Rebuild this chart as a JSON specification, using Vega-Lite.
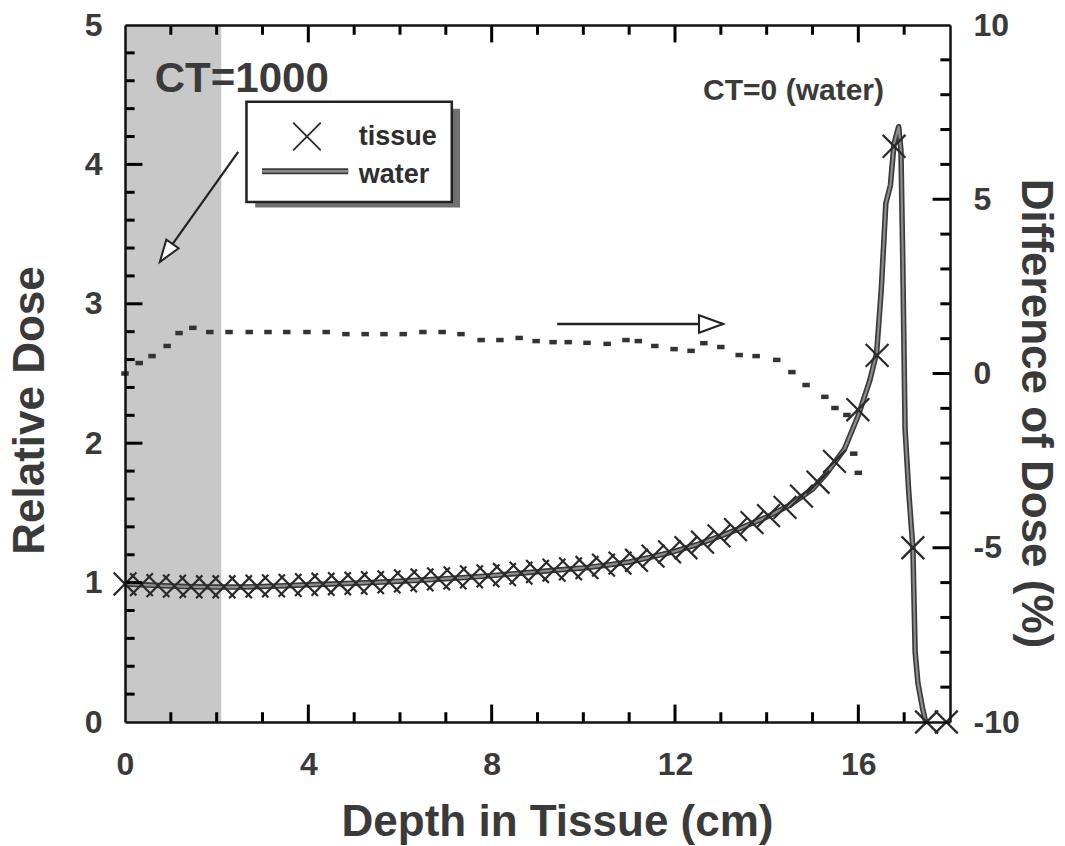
{
  "$schema": "https://vega.github.io/schema/vega-lite/v6.json",
  "width": 825,
  "height": 697,
  "autosize": {"type": "none"},
  "padding": {"left": 125, "top": 25, "right": 115, "bottom": 124},
  "background": "white",
  "config": {"view": {"stroke": null}},
  "datasets": {
    "shade": [{"x": 0, "x2": 2.1, "y": 0, "y2": 5}],
    "water": [
      {"d": 0, "v": 0.99}, {"d": 0.5, "v": 0.982}, {"d": 1, "v": 0.975}, {"d": 1.5, "v": 0.97}, {"d": 2, "v": 0.968},
      {"d": 2.5, "v": 0.968}, {"d": 3, "v": 0.972}, {"d": 3.5, "v": 0.978}, {"d": 4, "v": 0.984}, {"d": 4.5, "v": 0.99},
      {"d": 5, "v": 0.996}, {"d": 5.5, "v": 1.002}, {"d": 6, "v": 1.01}, {"d": 6.5, "v": 1.018}, {"d": 7, "v": 1.028},
      {"d": 7.5, "v": 1.038}, {"d": 8, "v": 1.05}, {"d": 8.5, "v": 1.064}, {"d": 9, "v": 1.078}, {"d": 9.5, "v": 1.092},
      {"d": 10, "v": 1.105}, {"d": 10.5, "v": 1.125}, {"d": 11, "v": 1.148}, {"d": 11.5, "v": 1.185}, {"d": 12, "v": 1.225},
      {"d": 12.5, "v": 1.275}, {"d": 13, "v": 1.335}, {"d": 13.5, "v": 1.4}, {"d": 14, "v": 1.47}, {"d": 14.5, "v": 1.555},
      {"d": 15, "v": 1.67}, {"d": 15.3, "v": 1.78}, {"d": 15.7, "v": 1.96}, {"d": 16.0, "v": 2.2}, {"d": 16.25, "v": 2.45},
      {"d": 16.4, "v": 2.65}, {"d": 16.5, "v": 3.1}, {"d": 16.6, "v": 3.72}, {"d": 16.7, "v": 3.85}, {"d": 16.78, "v": 4.15},
      {"d": 16.88, "v": 4.27}, {"d": 16.93, "v": 4.1}, {"d": 16.97, "v": 3.3}, {"d": 17.02, "v": 2.1}, {"d": 17.1, "v": 1.65},
      {"d": 17.19, "v": 1.25}, {"d": 17.24, "v": 0.5}, {"d": 17.3, "v": 0.28}, {"d": 17.4, "v": 0.1}, {"d": 17.47, "v": 0.0}
    ],
    "tissue": [
      {"d": 0, "v": 0.99}, {"d": 0.36, "v": 0.985}, {"d": 0.72, "v": 0.978}, {"d": 1.08, "v": 0.975}, {"d": 1.44, "v": 0.97},
      {"d": 1.8, "v": 0.97}, {"d": 2.16, "v": 0.97}, {"d": 2.52, "v": 0.97}, {"d": 2.88, "v": 0.975}, {"d": 3.24, "v": 0.977},
      {"d": 3.6, "v": 0.98}, {"d": 3.96, "v": 0.985}, {"d": 4.32, "v": 0.988}, {"d": 4.68, "v": 0.992}, {"d": 5.04, "v": 0.995},
      {"d": 5.4, "v": 1.0}, {"d": 5.76, "v": 1.005}, {"d": 6.12, "v": 1.012}, {"d": 6.48, "v": 1.02}, {"d": 6.84, "v": 1.027},
      {"d": 7.2, "v": 1.034}, {"d": 7.56, "v": 1.041}, {"d": 7.92, "v": 1.048}, {"d": 8.28, "v": 1.058}, {"d": 8.64, "v": 1.068},
      {"d": 9.0, "v": 1.08}, {"d": 9.36, "v": 1.089}, {"d": 9.72, "v": 1.098}, {"d": 10.08, "v": 1.108}, {"d": 10.44, "v": 1.125},
      {"d": 10.8, "v": 1.14}, {"d": 11.16, "v": 1.16}, {"d": 11.52, "v": 1.19}, {"d": 11.88, "v": 1.22}, {"d": 12.24, "v": 1.25},
      {"d": 12.6, "v": 1.29}, {"d": 12.96, "v": 1.335}, {"d": 13.32, "v": 1.38}, {"d": 13.68, "v": 1.43}, {"d": 14.04, "v": 1.48},
      {"d": 14.4, "v": 1.54}, {"d": 14.76, "v": 1.62}, {"d": 15.12, "v": 1.72}, {"d": 15.48, "v": 1.87},
      {"d": 15.99, "v": 2.24}, {"d": 16.41, "v": 2.63}, {"d": 16.78, "v": 4.13}, {"d": 17.19, "v": 1.25}, {"d": 17.49, "v": 0.0}, {"d": 17.92, "v": 0.0}
    ],
    "diff": [
      {"d": 0.0, "pct": 0.0}, {"d": 0.31, "pct": 0.3}, {"d": 0.59, "pct": 0.5}, {"d": 0.92, "pct": 0.79}, {"d": 1.18, "pct": 1.16},
      {"d": 1.48, "pct": 1.31}, {"d": 1.85, "pct": 1.19}, {"d": 2.27, "pct": 1.19}, {"d": 2.71, "pct": 1.19}, {"d": 3.12, "pct": 1.19},
      {"d": 3.53, "pct": 1.19}, {"d": 3.97, "pct": 1.19}, {"d": 4.39, "pct": 1.19}, {"d": 4.82, "pct": 1.13}, {"d": 5.24, "pct": 1.13},
      {"d": 5.65, "pct": 1.13}, {"d": 6.07, "pct": 1.13}, {"d": 6.5, "pct": 1.19}, {"d": 6.92, "pct": 1.19}, {"d": 7.33, "pct": 1.13},
      {"d": 7.77, "pct": 0.96}, {"d": 8.18, "pct": 0.96}, {"d": 8.6, "pct": 1.02}, {"d": 8.97, "pct": 0.93}, {"d": 9.34, "pct": 0.9},
      {"d": 9.67, "pct": 0.9}, {"d": 10.08, "pct": 0.88}, {"d": 10.52, "pct": 0.85}, {"d": 10.93, "pct": 0.96}, {"d": 11.2, "pct": 0.93},
      {"d": 11.56, "pct": 0.79}, {"d": 11.98, "pct": 0.7}, {"d": 12.35, "pct": 0.65}, {"d": 12.63, "pct": 0.87}, {"d": 13.0, "pct": 0.76},
      {"d": 13.4, "pct": 0.53}, {"d": 13.77, "pct": 0.5}, {"d": 14.22, "pct": 0.39}, {"d": 14.55, "pct": 0.04}, {"d": 14.86, "pct": -0.33},
      {"d": 15.27, "pct": -0.67}, {"d": 15.49, "pct": -0.99}, {"d": 15.75, "pct": -1.19}, {"d": 15.9, "pct": -2.3}, {"d": 16.0, "pct": -2.85}
    ],
    "xmajor": [{"t": 4}, {"t": 8}, {"t": 12}, {"t": 16}],
    "xminor": [{"t": 1}, {"t": 2}, {"t": 3}, {"t": 5}, {"t": 6}, {"t": 7}, {"t": 9}, {"t": 10}, {"t": 11}, {"t": 13}, {"t": 14}, {"t": 15}, {"t": 17}],
    "ymajor": [{"t": 1}, {"t": 2}, {"t": 3}, {"t": 4}],
    "yminor": [{"t": 0.2}, {"t": 0.4}, {"t": 0.6}, {"t": 0.8}, {"t": 1.2}, {"t": 1.4}, {"t": 1.6}, {"t": 1.8}, {"t": 2.2}, {"t": 2.4},
      {"t": 2.6}, {"t": 2.8}, {"t": 3.2}, {"t": 3.4}, {"t": 3.6}, {"t": 3.8}, {"t": 4.2}, {"t": 4.4}, {"t": 4.6}, {"t": 4.8}],
    "rmajor": [{"t": -5}, {"t": 0}, {"t": 5}],
    "rminor": [{"t": -9}, {"t": -8}, {"t": -7}, {"t": -6}, {"t": -4}, {"t": -3}, {"t": -2}, {"t": -1}, {"t": 1}, {"t": 2}, {"t": 3}, {"t": 4}, {"t": 6}, {"t": 7}, {"t": 8}, {"t": 9}],
    "shadow": [{"x": 2.84, "x2": 7.31, "y": 3.69, "y2": 4.4}],
    "box": [{"x": 2.65, "x2": 7.13, "y": 3.73, "y2": 4.45}],
    "legline": [{"x": 2.99, "y": 3.95}, {"x": 4.87, "y": 3.95}],
    "legx": [{"x": 3.97, "y": 4.2}],
    "legtext": [{"x": 5.1, "y": 4.14, "t": "tissue"}, {"x": 5.1, "y": 3.87, "t": "water"}],
    "ct1": [{"x": 0.65, "y": 4.52, "t": "CT=1000"}],
    "ct0": [{"x": 16.56, "y": 4.46, "t": "CT=0 (water)"}],
    "diagarrow": [{"x": 2.47, "y": 4.09, "x2": 0.76, "y2": 3.3}],
    "diaghead": [{"x": 0.76, "y": 3.3}],
    "harrow": [{"x": 9.43, "x2": 13.05, "y": 1.42}],
    "hhead": [{"x": 13.05, "y": 1.42}]
  },
  "resolve": {"scale": {"y": "independent"}, "axis": {"x": "independent", "y": "independent"}},
  "layer": [
    {
      "data": {"name": "shade"},
      "mark": {"type": "rect", "fill": "#c8c8c8"},
      "encoding": {
        "x": {"field": "x", "type": "quantitative", "scale": {"domain": [0, 18], "nice": false},
          "axis": {"orient": "bottom", "values": [0, 4, 8, 12, 16], "ticks": false, "domain": true, "domainColor": "#111", "domainWidth": 2.5,
            "labels": true, "labelFont": "Liberation Sans", "labelFontSize": 32, "labelFontWeight": "bold", "labelColor": "#3a3a3a",
            "labelPadding": 27, "labelFlush": false, "labelOverlap": false, "labelBound": false, "grid": false,
            "title": "Depth in Tissue (cm)", "titleFont": "Liberation Sans", "titleFontSize": 44, "titleFontWeight": "bold", "titleColor": "#3a3a3a",
            "titleX": 432, "titleY": 113, "titleBaseline": "alphabetic", "titleAlign": "center", "zindex": 2}},
        "x2": {"field": "x2"},
        "y": {"field": "y", "type": "quantitative", "scale": {"domain": [0, 5], "nice": false},
          "axis": {"orient": "left", "values": [0, 1, 2, 3, 4, 5], "ticks": false, "domain": true, "domainColor": "#111", "domainWidth": 2.5,
            "labels": true, "labelFont": "Liberation Sans", "labelFontSize": 32, "labelFontWeight": "bold", "labelColor": "#3a3a3a",
            "labelPadding": 23, "labelFlush": false, "labelOverlap": false, "labelBound": false, "grid": false,
            "title": "Relative Dose", "titleFont": "Liberation Sans", "titleFontSize": 44, "titleFontWeight": "bold", "titleColor": "#3a3a3a",
            "titleX": -82, "titleY": 385, "titleAngle": 270, "titleBaseline": "alphabetic", "titleAlign": "center", "zindex": 2}},
        "y2": {"field": "y2"}
      }
    },
    {
      "data": {"name": "diff"},
      "mark": {"type": "point", "shape": "M-1,-0.6L1,-0.6L1,0.6L-1,0.6Z", "filled": true, "fill": "#333333", "size": 56, "opacity": 1, "strokeWidth": 0},
      "encoding": {
        "x": {"field": "d", "type": "quantitative", "scale": {"domain": [0, 18], "nice": false}, "axis": null},
        "y": {"field": "pct", "type": "quantitative", "scale": {"domain": [-10, 10], "nice": false},
          "axis": {"orient": "right", "values": [-10, -5, 0, 5, 10], "ticks": false, "domain": true, "domainColor": "#111", "domainWidth": 2.5,
            "labels": true, "labelFont": "Liberation Sans", "labelFontSize": 32, "labelFontWeight": "bold", "labelColor": "#3a3a3a",
            "labelExpr": "datum.value < 0 ? '-' + abs(datum.value) : datum.label",
            "labelPadding": 23, "labelFlush": false, "labelOverlap": false, "labelBound": false, "grid": false,
            "title": "Difference of Dose (%)", "titleFont": "Liberation Sans", "titleFontSize": 44, "titleFontWeight": "bold", "titleColor": "#3a3a3a",
            "titleX": 71, "titleY": 388, "titleAngle": 90, "titleBaseline": "alphabetic", "titleAlign": "center", "zindex": 2}}
      }
    },
    {
      "data": {"name": "water"},
      "mark": {"type": "line", "stroke": "#3a3a3a", "strokeWidth": 5.5, "strokeJoin": "round"},
      "encoding": {
        "x": {"field": "d", "type": "quantitative", "scale": {"domain": [0, 18], "nice": false}, "axis": null},
        "y": {"field": "v", "type": "quantitative", "scale": {"domain": [0, 5], "nice": false}, "axis": null}
      }
    },
    {
      "data": {"name": "water"},
      "mark": {"type": "line", "stroke": "#8c8c8c", "strokeWidth": 2.2, "strokeJoin": "round"},
      "encoding": {
        "x": {"field": "d", "type": "quantitative", "scale": {"domain": [0, 18], "nice": false}, "axis": null},
        "y": {"field": "v", "type": "quantitative", "scale": {"domain": [0, 5], "nice": false}, "axis": null}
      }
    },
    {
      "data": {"name": "tissue"},
      "mark": {"type": "point", "shape": "M-1,-1L1,1M-1,1L1,-1", "filled": false, "stroke": "#2a2a2a", "strokeWidth": 2.2, "size": 520, "opacity": 1},
      "encoding": {
        "x": {"field": "d", "type": "quantitative", "scale": {"domain": [0, 18], "nice": false}, "axis": null},
        "y": {"field": "v", "type": "quantitative", "scale": {"domain": [0, 5], "nice": false}, "axis": null}
      }
    },
    {
      "data": {"name": "xmajor"},
      "mark": {"type": "rule", "stroke": "#000000", "strokeWidth": 3},
      "encoding": {
        "x": {"field": "t", "type": "quantitative", "scale": {"domain": [0, 18], "nice": false}, "axis": null},
        "y": {"datum": 0, "type": "quantitative", "scale": {"domain": [0, 5], "nice": false}, "axis": null},
        "y2": {"datum": 0.125}
      }
    },
    {
      "data": {"name": "xmajor"},
      "mark": {"type": "rule", "stroke": "#000000", "strokeWidth": 3},
      "encoding": {
        "x": {"field": "t", "type": "quantitative", "scale": {"domain": [0, 18], "nice": false}, "axis": null},
        "y": {"datum": 5, "type": "quantitative", "scale": {"domain": [0, 5], "nice": false}, "axis": null},
        "y2": {"datum": 4.875}
      }
    },
    {
      "data": {"name": "xminor"},
      "mark": {"type": "rule", "stroke": "#000000", "strokeWidth": 3},
      "encoding": {
        "x": {"field": "t", "type": "quantitative", "scale": {"domain": [0, 18], "nice": false}, "axis": null},
        "y": {"datum": 0, "type": "quantitative", "scale": {"domain": [0, 5], "nice": false}, "axis": null},
        "y2": {"datum": 0.07}
      }
    },
    {
      "data": {"name": "xminor"},
      "mark": {"type": "rule", "stroke": "#000000", "strokeWidth": 3},
      "encoding": {
        "x": {"field": "t", "type": "quantitative", "scale": {"domain": [0, 18], "nice": false}, "axis": null},
        "y": {"datum": 5, "type": "quantitative", "scale": {"domain": [0, 5], "nice": false}, "axis": null},
        "y2": {"datum": 4.93}
      }
    },
    {
      "data": {"name": "ymajor"},
      "mark": {"type": "rule", "stroke": "#000000", "strokeWidth": 3},
      "encoding": {
        "y": {"field": "t", "type": "quantitative", "scale": {"domain": [0, 5], "nice": false}, "axis": null},
        "x": {"datum": 0, "type": "quantitative", "scale": {"domain": [0, 18], "nice": false}, "axis": null},
        "x2": {"datum": 0.38}
      }
    },
    {
      "data": {"name": "yminor"},
      "mark": {"type": "rule", "stroke": "#000000", "strokeWidth": 3},
      "encoding": {
        "y": {"field": "t", "type": "quantitative", "scale": {"domain": [0, 5], "nice": false}, "axis": null},
        "x": {"datum": 0, "type": "quantitative", "scale": {"domain": [0, 18], "nice": false}, "axis": null},
        "x2": {"datum": 0.21}
      }
    },
    {
      "data": {"name": "rmajor"},
      "mark": {"type": "rule", "stroke": "#000000", "strokeWidth": 3},
      "encoding": {
        "y": {"field": "t", "type": "quantitative", "scale": {"domain": [-10, 10], "nice": false}, "axis": null},
        "x": {"datum": 18, "type": "quantitative", "scale": {"domain": [0, 18], "nice": false}, "axis": null},
        "x2": {"datum": 17.62}
      }
    },
    {
      "data": {"name": "rminor"},
      "mark": {"type": "rule", "stroke": "#000000", "strokeWidth": 3},
      "encoding": {
        "y": {"field": "t", "type": "quantitative", "scale": {"domain": [-10, 10], "nice": false}, "axis": null},
        "x": {"datum": 18, "type": "quantitative", "scale": {"domain": [0, 18], "nice": false}, "axis": null},
        "x2": {"datum": 17.79}
      }
    },
    {
      "data": {"name": "shadow"},
      "mark": {"type": "rect", "fill": "#707070"},
      "encoding": {
        "x": {"field": "x", "type": "quantitative", "scale": {"domain": [0, 18], "nice": false},
          "axis": {"orient": "top", "ticks": false, "domain": true, "domainColor": "#111", "domainWidth": 2.5, "labels": false, "grid": false, "title": null, "zindex": 2}},
        "x2": {"field": "x2"},
        "y": {"field": "y", "type": "quantitative", "scale": {"domain": [0, 5], "nice": false}, "axis": null},
        "y2": {"field": "y2"}
      }
    },
    {
      "data": {"name": "box"},
      "mark": {"type": "rect", "fill": "white", "stroke": "#222222", "strokeWidth": 2.5},
      "encoding": {
        "x": {"field": "x", "type": "quantitative", "scale": {"domain": [0, 18], "nice": false}, "axis": null},
        "x2": {"field": "x2"},
        "y": {"field": "y", "type": "quantitative", "scale": {"domain": [0, 5], "nice": false}, "axis": null},
        "y2": {"field": "y2"}
      }
    },
    {
      "data": {"name": "legline"},
      "mark": {"type": "line", "stroke": "#3a3a3a", "strokeWidth": 6},
      "encoding": {
        "x": {"field": "x", "type": "quantitative", "scale": {"domain": [0, 18], "nice": false}, "axis": null},
        "y": {"field": "y", "type": "quantitative", "scale": {"domain": [0, 5], "nice": false}, "axis": null}
      }
    },
    {
      "data": {"name": "legline"},
      "mark": {"type": "line", "stroke": "#8c8c8c", "strokeWidth": 2.5},
      "encoding": {
        "x": {"field": "x", "type": "quantitative", "scale": {"domain": [0, 18], "nice": false}, "axis": null},
        "y": {"field": "y", "type": "quantitative", "scale": {"domain": [0, 5], "nice": false}, "axis": null}
      }
    },
    {
      "data": {"name": "legx"},
      "mark": {"type": "point", "shape": "M-1,-1L1,1M-1,1L1,-1", "filled": false, "stroke": "#2a2a2a", "strokeWidth": 1.8, "size": 760, "opacity": 1},
      "encoding": {
        "x": {"field": "x", "type": "quantitative", "scale": {"domain": [0, 18], "nice": false}, "axis": null},
        "y": {"field": "y", "type": "quantitative", "scale": {"domain": [0, 5], "nice": false}, "axis": null}
      }
    },
    {
      "data": {"name": "legtext"},
      "mark": {"type": "text", "font": "Liberation Sans", "fontWeight": "bold", "fontSize": 27, "fill": "#2e2e2e", "align": "left", "baseline": "alphabetic"},
      "encoding": {
        "x": {"field": "x", "type": "quantitative", "scale": {"domain": [0, 18], "nice": false}, "axis": null},
        "y": {"field": "y", "type": "quantitative", "scale": {"domain": [0, 5], "nice": false}, "axis": null},
        "text": {"field": "t"}
      }
    },
    {
      "data": {"name": "ct1"},
      "mark": {"type": "text", "font": "Liberation Sans", "fontWeight": "bold", "fontSize": 42, "fill": "#3a3a3a", "align": "left", "baseline": "alphabetic"},
      "encoding": {
        "x": {"field": "x", "type": "quantitative", "scale": {"domain": [0, 18], "nice": false}, "axis": null},
        "y": {"field": "y", "type": "quantitative", "scale": {"domain": [0, 5], "nice": false}, "axis": null},
        "text": {"field": "t"}
      }
    },
    {
      "data": {"name": "ct0"},
      "mark": {"type": "text", "font": "Liberation Sans", "fontWeight": "bold", "fontSize": 30, "fill": "#3a3a3a", "align": "right", "baseline": "alphabetic"},
      "encoding": {
        "x": {"field": "x", "type": "quantitative", "scale": {"domain": [0, 18], "nice": false}, "axis": null},
        "y": {"field": "y", "type": "quantitative", "scale": {"domain": [0, 5], "nice": false}, "axis": null},
        "text": {"field": "t"}
      }
    },
    {
      "data": {"name": "diagarrow"},
      "mark": {"type": "rule", "stroke": "#222222", "strokeWidth": 2.2},
      "encoding": {
        "x": {"field": "x", "type": "quantitative", "scale": {"domain": [0, 18], "nice": false}, "axis": null},
        "x2": {"field": "x2"},
        "y": {"field": "y", "type": "quantitative", "scale": {"domain": [0, 5], "nice": false}, "axis": null},
        "y2": {"field": "y2"}
      }
    },
    {
      "data": {"name": "diaghead"},
      "mark": {"type": "point", "shape": "M0,0L-2.2,-0.75L-2.2,0.75Z", "filled": true, "fill": "white", "stroke": "#222222", "strokeWidth": 2, "size": 400, "angle": 125, "opacity": 1},
      "encoding": {
        "x": {"field": "x", "type": "quantitative", "scale": {"domain": [0, 18], "nice": false}, "axis": null},
        "y": {"field": "y", "type": "quantitative", "scale": {"domain": [0, 5], "nice": false}, "axis": null}
      }
    },
    {
      "data": {"name": "harrow"},
      "mark": {"type": "rule", "stroke": "#222222", "strokeWidth": 2.5},
      "encoding": {
        "x": {"field": "x", "type": "quantitative", "scale": {"domain": [0, 18], "nice": false}, "axis": null},
        "x2": {"field": "x2"},
        "y": {"field": "y", "type": "quantitative", "scale": {"domain": [-10, 10], "nice": false}, "axis": null}
      }
    },
    {
      "data": {"name": "hhead"},
      "mark": {"type": "point", "shape": "M0,0L-2.2,-0.8L-2.2,0.8Z", "filled": true, "fill": "white", "stroke": "#222222", "strokeWidth": 2, "size": 480, "opacity": 1},
      "encoding": {
        "x": {"field": "x", "type": "quantitative", "scale": {"domain": [0, 18], "nice": false}, "axis": null},
        "y": {"field": "y", "type": "quantitative", "scale": {"domain": [-10, 10], "nice": false}, "axis": null}
      }
    }
  ]
}
